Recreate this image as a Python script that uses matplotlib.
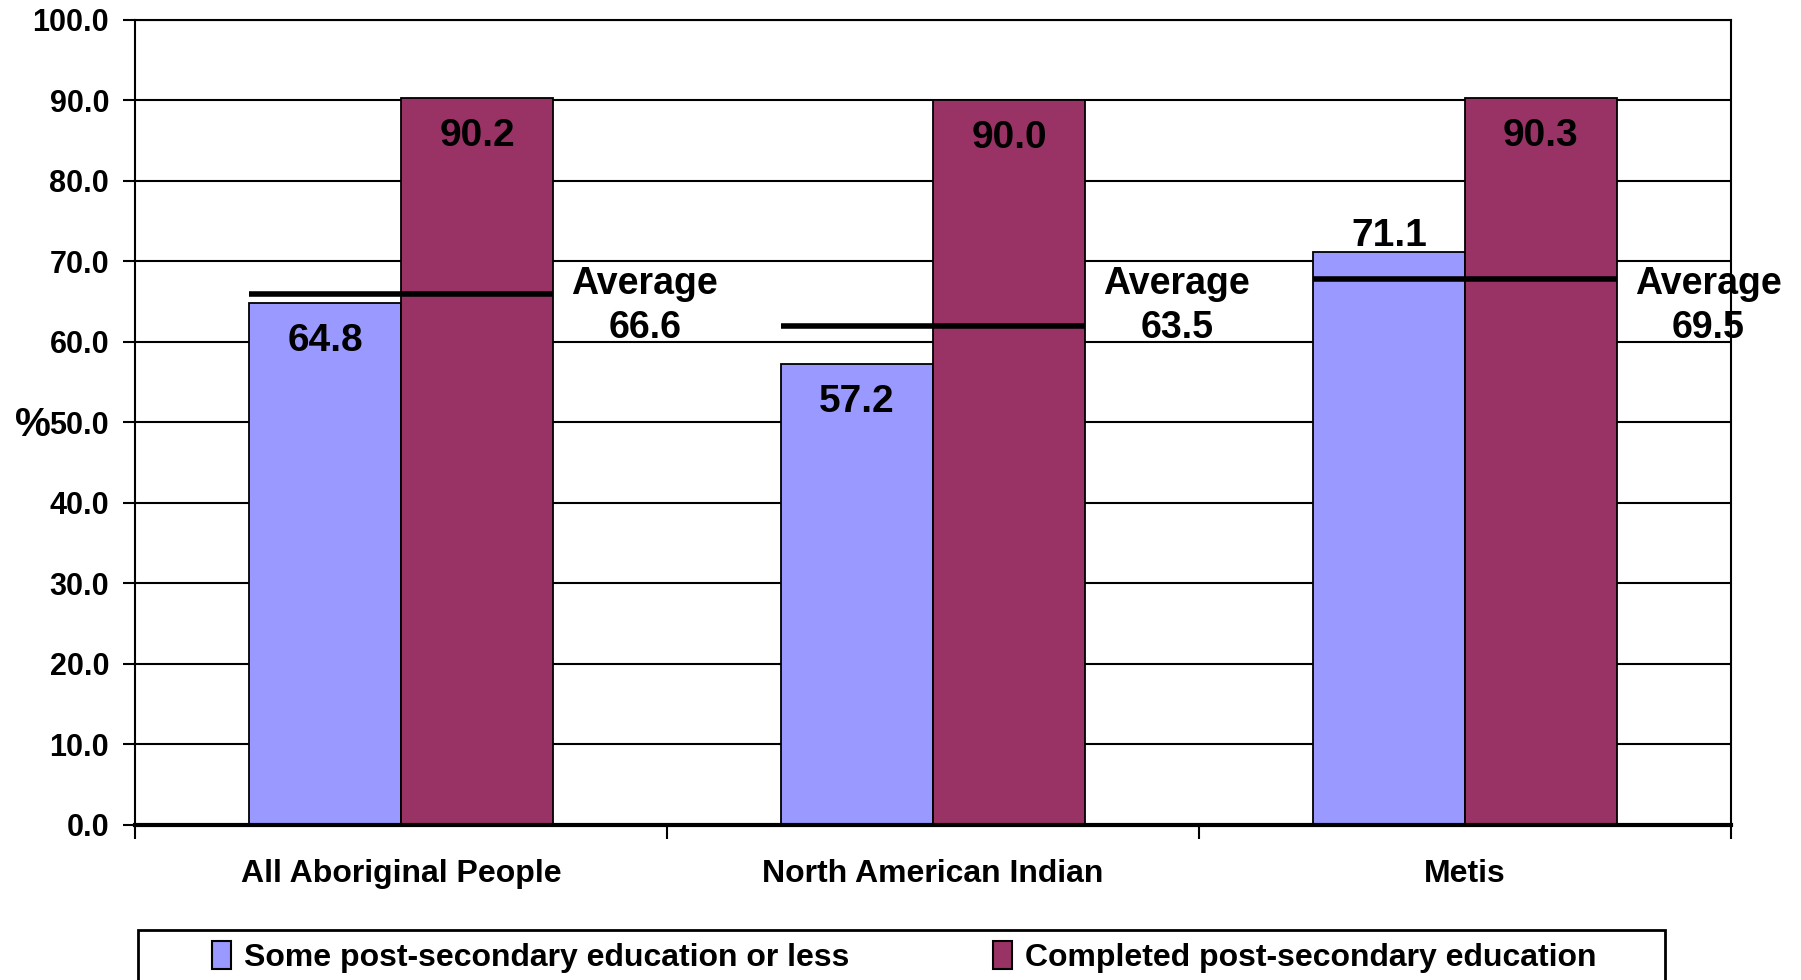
import matplotlib
matplotlib.use("Agg")
import matplotlib.pyplot as plt
from matplotlib.patches import Rectangle, Patch
import numpy as np

categories = ["All Aboriginal People", "North American Indian", "Metis"]
some_pse = [64.8, 57.2, 71.1]
completed_pse = [90.2, 90.0, 90.3]
average_labels = [66.6, 63.5, 69.5]
average_line_levels = [65.9, 62.0, 67.8]
series_names = ["Some post-secondary education or less", "Completed post-secondary education"]
yticks = [0, 10, 20, 30, 40, 50, 60, 70, 80, 90, 100]

plt.rcParams['font.family'] = ['Liberation Sans', 'DejaVu Sans']
plt.rcParams['font.weight'] = 'bold'

BLUE = "#9999FF"
RED = "#993366"

fig = plt.figure(figsize=(18.01, 9.8), dpi=100)
ax = fig.add_axes([0.0752, 0.1585, 0.961 - 0.0752, 0.980 - 0.1585])

x = np.arange(len(categories))
w = 0.286

ax.set_axisbelow(True)
for yv in yticks:
    ax.axhline(yv, color="black", lw=1.5, zorder=0)

b1 = ax.bar(x - w / 2, some_pse, w, color=BLUE, edgecolor="black", lw=1.3, zorder=2)
b2 = ax.bar(x + w / 2, completed_pse, w, color=RED, edgecolor="black", lw=1.3, zorder=2)

# value labels
for i, v in enumerate(completed_pse):
    ax.text(x[i] + w / 2, v - 4.7, f"{v:.1f}", ha="center", va="center",
            fontsize=28, fontweight="bold", zorder=4)
blue_above = [False, False, True]
for i, v in enumerate(some_pse):
    yy = v + 2.0 if blue_above[i] else v - 4.7
    ax.text(x[i] - w / 2, yy, f"{v:.1f}", ha="center", va="center",
            fontsize=28, fontweight="bold", zorder=4)

# average lines and labels
for i in range(len(categories)):
    ax.plot([x[i] - w, x[i] + w], [average_line_levels[i]] * 2, color="black",
            lw=4, solid_capstyle="butt", zorder=3)
    ax.text(x[i] + 0.458, 64.4, f"Average\n{average_labels[i]:.1f}", ha="center",
            va="center", fontsize=27, fontweight="bold", linespacing=1.3, zorder=4)

ax.set_xlim(-0.5, 2.5)
ax.set_ylim(0, 100)
ax.set_yticks(yticks)
ax.set_yticklabels([f"{t:.1f}" for t in yticks], fontsize=22, fontweight="bold")
ax.tick_params(axis="y", direction="out", length=9, width=1.5, pad=10)

ax.set_xticks(x)
ax.set_xticklabels(categories, fontsize=23, fontweight="bold")
ax.tick_params(axis="x", which="major", length=0, pad=25)
ax.set_xticks([-0.5, 0.5, 1.5, 2.5], minor=True)
ax.tick_params(axis="x", which="minor", direction="out", length=10, width=1.5)

for s in ["left", "right", "top"]:
    ax.spines[s].set_linewidth(1.5)
    ax.spines[s].set_color("black")
ax.spines["bottom"].set_linewidth(3)

fig.text(33 / 1801, 1 - 425 / 980, "%", fontsize=29, fontweight="bold",
         ha="center", va="center")

# legend box (cut off at figure bottom)
fig.patches.append(Rectangle((138 / 1801, -0.05), (1665 - 138) / 1801, 0.05 + 1 - 930 / 980,
                             transform=fig.transFigure, fill=False, edgecolor="black",
                             lw=2, clip_on=False))
handles = [Patch(facecolor=BLUE, edgecolor="black", lw=1.5),
           Patch(facecolor=RED, edgecolor="black", lw=1.5)]
leg = fig.legend(handles, series_names, loc="center left", ncol=2, frameon=False,
                 bbox_to_anchor=(212 / 1801, 1 - 957 / 980), fontsize=23,
                 handlelength=0.6, handleheight=1.0, handletextpad=0.4, columnspacing=4.5,
                 borderaxespad=0, borderpad=0)

fig.savefig("out.png", dpi=100)
